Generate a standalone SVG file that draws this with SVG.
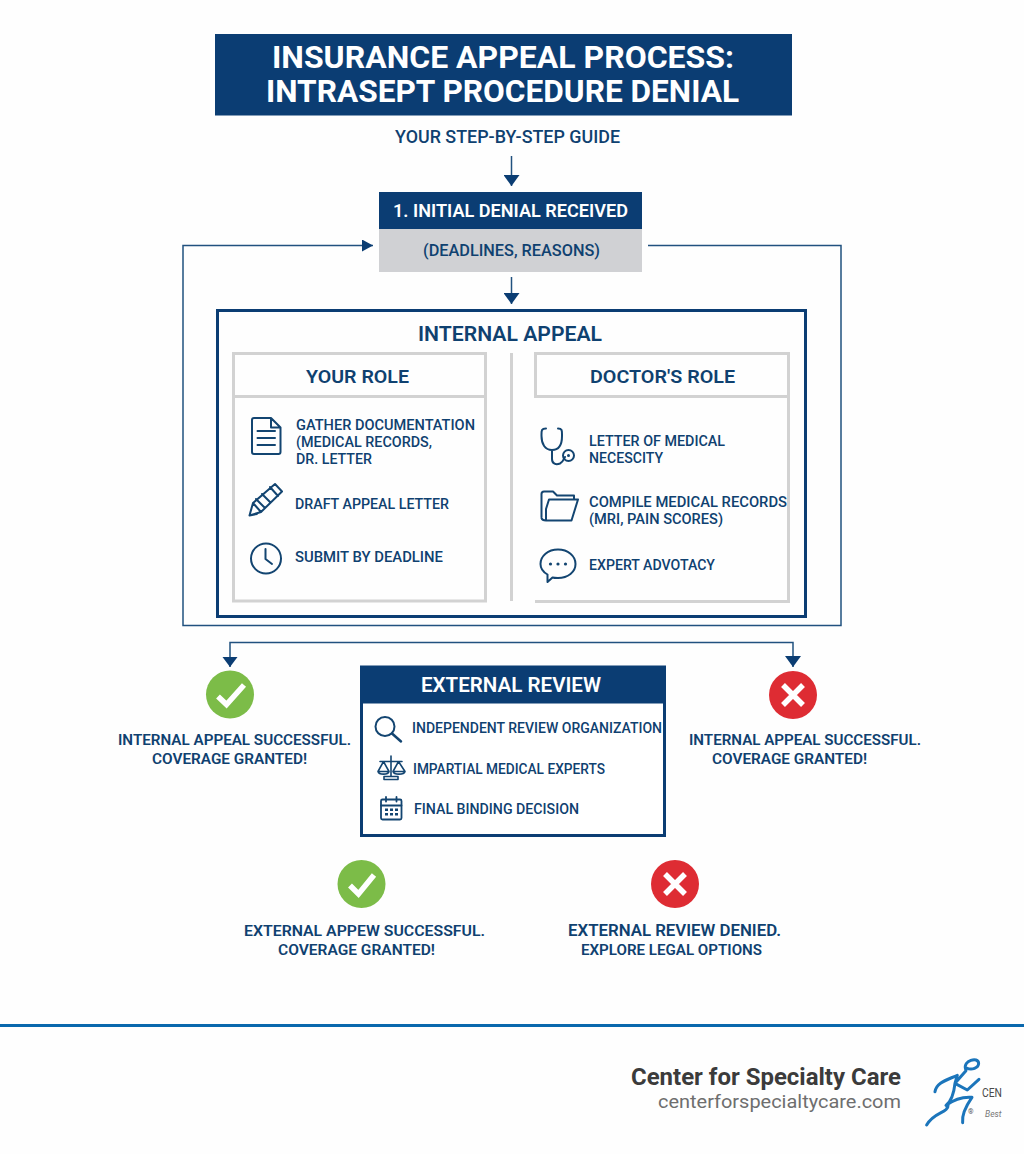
<svg xmlns="http://www.w3.org/2000/svg" width="1024" height="1154" viewBox="0 0 1024 1154">
<style>
text{font-family:Roboto,"Liberation Sans",sans-serif;fill:#0f4170;font-weight:500}
.t{fill:#fff;font-weight:700}
.h{font-size:20px;font-weight:600}
.i{font-size:14.5px;font-weight:500}
.o{font-size:15.5px;font-weight:600}
.c{fill:none;stroke:#21517f;stroke-width:1.5}
.ic{fill:none;stroke:#134571;stroke-width:2;stroke-linecap:round;stroke-linejoin:round}
.g{fill:none;stroke:#d2d2d2;stroke-width:3}
.hd{fill:#0b3d73}
.m{fill:none;stroke:#fff;stroke-width:5.5}
.lg{fill:none;stroke:#1b75bb;stroke-width:3.2;stroke-linecap:round;stroke-linejoin:round}
</style>
<defs>
<marker id="a" markerUnits="userSpaceOnUse" markerWidth="16" markerHeight="12" refX="11" refY="6" orient="auto"><path d="M0 0L11 6L0 12Z" fill="#0b3d73"/></marker>
<marker id="b" markerUnits="userSpaceOnUse" markerWidth="12" markerHeight="16" refX="11" refY="8" orient="auto"><path d="M0 0L11 8L0 16Z" fill="#0b3d73"/></marker>
</defs>
<rect width="1024" height="1154" fill="#fefefe"/>

<g id="connectors">
<path class="c" d="M511.5 156V186" marker-end="url(#b)"/>
<path class="c" d="M511.5 277V304" marker-end="url(#b)"/>
<path class="c" d="M648 245.500H841V625.500H183V245.500H373" marker-end="url(#a)"/>
<path class="c" d="M230 667V642.500H793V667" marker-end="url(#b)"/>
<path d="M222.500 657H237.500L230 667Z" class="hd"/>
</g>

<g id="title">
<rect x="215" y="34" width="577" height="81.500" class="hd"/>
<text class="t" x="272" y="68" font-size="31" textLength="462" lengthAdjust="spacingAndGlyphs">INSURANCE APPEAL PROCESS:</text>
<text class="t" x="266" y="102" font-size="31" textLength="473" lengthAdjust="spacingAndGlyphs">INTRASEPT PROCEDURE DENIAL</text>
</g>
<g id="subtitle"><text x="395" y="143" font-size="18" textLength="225" lengthAdjust="spacingAndGlyphs">YOUR STEP-BY-STEP GUIDE</text></g>

<g id="node-initial-denial">
<rect x="379" y="192" width="263" height="37" class="hd"/>
<rect x="379" y="229" width="263" height="43" fill="#d0d1d4"/>
<text class="t" x="393" y="217" font-size="18" textLength="235" lengthAdjust="spacingAndGlyphs" style="font-weight:600">1. INITIAL DENIAL RECEIVED</text>
<text x="423" y="256" font-size="17" textLength="177" lengthAdjust="spacingAndGlyphs">(DEADLINES, REASONS)</text>
</g>

<g id="node-internal-appeal">
<rect x="217.500" y="310.500" width="588" height="306" fill="none" stroke="#0b3d73" stroke-width="3"/>
<text class="h" x="418" y="341" textLength="184" lengthAdjust="spacingAndGlyphs">INTERNAL APPEAL</text>
<path class="g" d="M511.500 353V601"/>
</g>

<g id="node-your-role">
<rect class="g" x="233.500" y="353.500" width="252" height="247.500"/>
<path class="g" d="M233.500 396.500H485.500"/>
<text x="306" y="382.500" font-size="19" textLength="103" lengthAdjust="spacingAndGlyphs" style="font-weight:600">YOUR ROLE</text>
<path class="ic" d="M252 420a2 2 0 0 1 2-2H271L280.500 427.500V452a2 2 0 0 1-2 2H254a2 2 0 0 1-2-2ZM271 418V427.500H280.500M257.500 431H275M257.500 438H275M257.500 445H275"/>
<text class="i" x="296" y="430" textLength="179" lengthAdjust="spacingAndGlyphs">GATHER DOCUMENTATION</text>
<text class="i" x="296" y="447" textLength="136" lengthAdjust="spacingAndGlyphs">(MEDICAL RECORDS,</text>
<text class="i" x="296" y="464" textLength="76" lengthAdjust="spacingAndGlyphs">DR. LETTER</text>
<path class="ic" d="M249.500 515.500L253 503L275 484L282 491.500L261 512ZM253 503L261 512M256 499L265 508M262 494L270 502M270 487L278 496M249.500 515.500L257 514"/>
<text class="i" x="295" y="509" textLength="154" lengthAdjust="spacingAndGlyphs">DRAFT APPEAL LETTER</text>
<circle class="ic" cx="266" cy="558.500" r="15"/>
<path class="ic" d="M265.500 549V559L272 564"/>
<text class="i" x="295" y="562" textLength="148" lengthAdjust="spacingAndGlyphs">SUBMIT BY DEADLINE</text>
</g>

<g id="node-doctors-role">
<path class="g" d="M535 601.500H788.500V353.500H535.500V396.500H790"/>
<text x="590" y="382.500" font-size="19" textLength="145" lengthAdjust="spacingAndGlyphs" style="font-weight:600">DOCTOR'S ROLE</text>
<path class="ic" d="M546 428.500C541 428.500 541.500 431 541.500 436C541.500 444 545 450 552 450C559 450 562 444 562 436C562 431 562.500 428.500 558 428.500M552 450V459C552 464 556 465 560 463.500C563 462 564 459 565 457"/>
<circle class="ic" cx="568.500" cy="455.500" r="5.500"/><circle cx="568.500" cy="455.500" r="1.500" fill="#134571"/>
<text class="i" x="589" y="445.500" textLength="136" lengthAdjust="spacingAndGlyphs">LETTER OF MEDICAL</text>
<text class="i" x="589" y="462.500" textLength="74" lengthAdjust="spacingAndGlyphs">NECESCITY</text>
<path class="ic" d="M546 520.500H571.500L578 499.500H549L546 509ZM541.500 517V494C541.500 492 542.500 491.500 544 491.500H553L557 495.500H574V499.500M541.500 518C542 520 544 520.500 546 520.500"/>
<text class="i" x="589" y="506.500" textLength="198" lengthAdjust="spacingAndGlyphs">COMPILE MEDICAL RECORDS</text>
<text class="i" x="589" y="524" textLength="134" lengthAdjust="spacingAndGlyphs">(MRI, PAIN SCORES)</text>
<path class="ic" d="M558 549.500C568 549.500 575.500 556 575.500 564C575.500 572 568 578 558 578C556 578 554 578 552.500 577.500L547.500 582L547.500 574.500C543 572 540.500 568.500 540.500 564C540.500 556 548 549.500 558 549.500Z"/>
<circle cx="550.500" cy="564" r="1.600" fill="#134571"/><circle cx="558" cy="564" r="1.600" fill="#134571"/><circle cx="565.500" cy="564" r="1.600" fill="#134571"/>
<text class="i" x="589" y="570" textLength="126" lengthAdjust="spacingAndGlyphs">EXPERT ADVOTACY</text>
</g>

<g id="node-external-review">
<rect x="361.500" y="667" width="303" height="168.500" fill="#fff" stroke="#0b3d73" stroke-width="3"/>
<rect x="360" y="666" width="306" height="37.500" class="hd"/>
<text class="t" x="421" y="692" font-size="20" textLength="180" lengthAdjust="spacingAndGlyphs" style="font-weight:600">EXTERNAL REVIEW</text>
<circle class="ic" cx="385" cy="726.500" r="9.500"/><path class="ic" d="M392 733.500L401 741.500" style="stroke-width:2.500"/>
<text class="i" x="412" y="733" textLength="250" lengthAdjust="spacingAndGlyphs">INDEPENDENT REVIEW ORGANIZATION</text>
<path class="ic" style="stroke-width:1.600" d="M391 756V776M384 776.500H398V779.500H384ZM380 761.500H402M383.500 761.500L378 771.500C379 775 388 775 389 771.500ZM378 771.500H389M398.500 761.500L393 771.500C394 775 404 775 405 771.500L398.500 761.500M393 771.500H405"/>
<text class="i" x="413" y="774" textLength="192" lengthAdjust="spacingAndGlyphs">IMPARTIAL MEDICAL EXPERTS</text>
<rect class="ic" style="stroke-width:1.800" x="381" y="799.500" width="20.500" height="20" rx="1.500"/>
<path class="ic" style="stroke-width:1.800" d="M381 805.500H401.500M386 797V801.500M396.500 797V801.500"/>
<path d="M385 808.500h3v2.500h-3zM390 808.500h3v2.500h-3zM395 808.500h3v2.500h-3zM385 813h3v2.500h-3zM390 813h3v2.500h-3zM395 813h3v2.500h-3z" fill="#134571"/>
<text class="i" x="414" y="814" textLength="165" lengthAdjust="spacingAndGlyphs">FINAL BINDING DECISION</text>
</g>

<g id="node-internal-success">
<circle cx="230" cy="694.500" r="24" fill="#7cbc48"/>
<path class="m" d="M218 696.500L226.500 704.500L244 685"/>
<text class="o" x="118" y="745" textLength="233" lengthAdjust="spacingAndGlyphs">INTERNAL APPEAL SUCCESSFUL.</text>
<text class="o" x="152" y="764" textLength="155" lengthAdjust="spacingAndGlyphs">COVERAGE GRANTED!</text>
</g>
<g id="node-internal-denied">
<circle cx="793" cy="695" r="24" fill="#de2c33"/>
<path class="m" d="M783 685L803 705M803 685L783 705"/>
<text class="o" x="689" y="745" textLength="232" lengthAdjust="spacingAndGlyphs">INTERNAL APPEAL SUCCESSFUL.</text>
<text class="o" x="712" y="764" textLength="155" lengthAdjust="spacingAndGlyphs">COVERAGE GRANTED!</text>
</g>
<g id="node-external-success">
<circle cx="361.500" cy="884" r="24" fill="#7cbc48"/>
<path class="m" d="M350 885.500L358.500 894L374 875"/>
<text class="o" x="244" y="935.500" textLength="241" lengthAdjust="spacingAndGlyphs">EXTERNAL APPEW SUCCESSFUL.</text>
<text class="o" x="278" y="955" textLength="157" lengthAdjust="spacingAndGlyphs">COVERAGE GRANTED!</text>
</g>
<g id="node-external-denied">
<circle cx="675" cy="884" r="24" fill="#de2c33"/>
<path class="m" d="M665 874L685 894M685 874L665 894"/>
<text class="o" x="568" y="935.500" textLength="213" lengthAdjust="spacingAndGlyphs" style="font-size:16.500px">EXTERNAL REVIEW DENIED.</text>
<text class="o" x="581" y="955" textLength="181" lengthAdjust="spacingAndGlyphs" style="font-size:14.500px">EXPLORE LEGAL OPTIONS</text>
</g>

<g id="footer">
<rect x="0" y="1024" width="1024" height="3" fill="#0a68ad"/>
<text x="631" y="1085" font-size="23.500" textLength="270" lengthAdjust="spacingAndGlyphs" style="fill:#3b3b3b;font-weight:700">Center for Specialty Care</text>
<text x="658" y="1107.500" font-size="19" textLength="243" lengthAdjust="spacingAndGlyphs" style="fill:#6e6e6e;font-weight:400">centerforspecialtycare.com</text>
<g transform="translate(620 1040) scale(.3333)">
<path class="lg" style="stroke-width:9" d="M1037 88C1028 62 1075 48 1076 70C1076 84 1055 92 1040 84M945 155C950 128 975 122 1012 106L1005 130L1042 150L1077 118M1038 92L1005 130C1002 160 992 185 978 196C1000 180 1030 170 1056 172C1040 195 1025 225 1028 248M985 192C985 222 945 212 920 255"/>
</g>
<text x="982" y="1096.500" font-size="13" textLength="20" lengthAdjust="spacingAndGlyphs" style="fill:#4a4a4a;font-weight:400">CEN</text>
<text x="985" y="1116.500" font-size="8.500" style="fill:#777;font-weight:400;font-style:italic">Best</text>
<text x="968" y="1114" font-size="7" style="fill:#555;font-weight:400">®</text>
</g>
</svg>
